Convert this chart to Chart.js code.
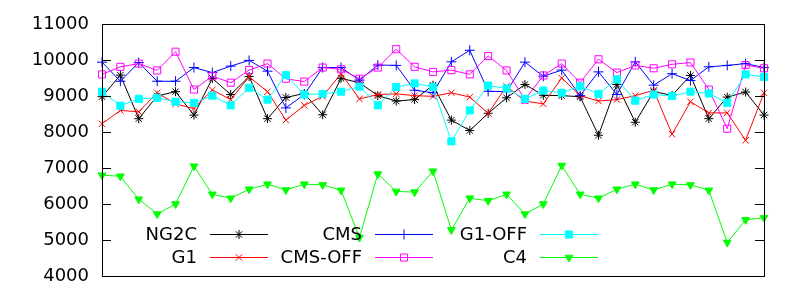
<!DOCTYPE html>
<html>
<head>
<meta charset="utf-8">
<script src="https://cdn.jsdelivr.net/npm/chart.js@4.4.1/dist/chart.umd.min.js"></script>
<style>
html,body{margin:0;padding:0;background:#fff;}
#wrap{width:800px;height:300px;}
</style>
</head>
<body>
<div id="wrap"><canvas id="c" width="800" height="300"></canvas></div>
<script>
const categories = Array.from({length: 37}, (_, i) => String(i + 1));
const yTicks = [4000, 5000, 6000, 7000, 8000, 9000, 10000, 11000];

const ng2c   = [8980,9580,8370,9000,9120,8470,9490,9040,9540,8370,8960,9070,8480,9490,9370,9010,8860,8900,9300,8330,8040,8520,8950,9320,9020,9010,8980,7910,9320,8270,9120,9020,9570,8370,8970,9110,8470];
const g1     = [8230,8600,8560,9090,8780,8650,9170,8900,9530,9120,8330,8740,8990,9620,8920,9040,9060,9010,8990,9090,8970,8520,9270,8860,8780,9500,9010,8860,8900,9010,9160,7940,8840,8530,8530,7770,9090];
const cms    = [9940,9410,9930,9410,9410,9790,9650,9830,9990,9690,8670,9040,9790,9790,9440,9860,9850,9160,9090,9950,10270,9130,9120,9940,9550,9720,9010,9670,9040,9950,9300,9620,9430,9810,9850,9900,9790];
const cmsOff = [9600,9810,9900,9710,10230,9180,9550,9370,9720,9900,9480,9400,9790,9740,9480,9790,10300,9810,9670,9720,9600,10110,9710,8900,9570,9900,9370,10020,9650,9850,9770,9880,9930,9180,8090,9860,9770];
const g1Off  = [9120,8730,8920,8950,8840,8810,9010,8740,9230,8900,9580,9040,9060,9120,9260,8740,9250,9350,9250,7740,8600,9290,9210,8920,9150,9090,9270,9060,9460,8870,9040,9000,9120,9070,8810,9600,9530];
const c4     = [6800,6770,6130,5720,6000,7050,6270,6160,6410,6550,6390,6550,6530,6380,5070,6830,6350,6330,6910,5280,6160,6090,6270,5720,6000,7070,6270,6160,6410,6550,6390,6550,6530,6380,4930,5560,5620];

const seriesNames = ['NG2C', 'G1', 'CMS', 'CMS-OFF', 'G1-OFF', 'C4'];
const seriesData = [ng2c, g1, cms, cmsOff, g1Off, c4];
const seriesColors = ['#000000', '#ff0000', '#0000ff', '#ff00ff', '#00ffff', '#00ff00'];
const seriesStyles = ['star', 'crossRot', 'cross', 'rect', 'rect', 'triangle'];
const seriesFill = [false, false, false, false, true, true];
const seriesRot = [0, 0, 0, 0, 0, 180];
const seriesRadius = [4.5, 4.5, 5, 5, 5, 4.5];

const FONT = '18px "DejaVu Sans", sans-serif';

const datasets = seriesNames.map((name, i) => ({
  label: name,
  data: seriesData[i],
  borderColor: seriesColors[i],
  backgroundColor: seriesFill[i] ? seriesColors[i] : 'rgba(0,0,0,0)',
  pointBorderColor: seriesColors[i],
  pointBackgroundColor: seriesFill[i] ? seriesColors[i] : 'rgba(0,0,0,0)',
  pointStyle: seriesStyles[i],
  pointRotation: seriesRot[i],
  pointRadius: seriesRadius[i],
  pointBorderWidth: 1,
  borderWidth: 1,
  tension: 0,
  fill: false,
  order: seriesNames.length - i
}));

function drawMarker(ctx, style, x, y, r, color, filled, rot) {
  if (Chart.helpers && Chart.helpers.drawPoint) {
    ctx.save();
    ctx.strokeStyle = color;
    ctx.fillStyle = filled ? color : 'rgba(0,0,0,0)';
    ctx.lineWidth = 1;
    Chart.helpers.drawPoint(ctx, {pointStyle: style, radius: r, rotation: rot, borderWidth: 1}, x, y);
    ctx.restore();
  }
}

const framePlugin = {
  id: 'frame',
  afterDatasetsDraw(chart) {
    const ctx = chart.ctx;
    const a = chart.chartArea;
    const ys = chart.scales.y;
    ctx.save();
    ctx.strokeStyle = '#000';
    ctx.lineWidth = 1;
    ctx.strokeRect(Math.round(a.left) + 0.5, Math.round(a.top) + 0.5, Math.round(a.right - a.left), Math.round(a.bottom - a.top));
    ctx.beginPath();
    yTicks.forEach(v => {
      const py = Math.round(ys.getPixelForValue(v)) + 0.5;
      ctx.moveTo(a.left, py); ctx.lineTo(a.left + 9, py);
      ctx.moveTo(a.right - 9, py); ctx.lineTo(a.right, py);
    });
    ctx.stroke();

    // legend: 2 rows x 3 columns, column-major order
    const colTextRight = [197, 362, 527];
    const colLineStart = [210, 375, 540];
    const lineLen = 58;
    const rowY = [234, 257];
    ctx.font = FONT;
    ctx.textAlign = 'right';
    ctx.textBaseline = 'middle';
    seriesNames.forEach((name, i) => {
      const col = Math.floor(i / 2), row = i % 2;
      const y = rowY[row];
      ctx.fillStyle = '#000';
      ctx.fillText(name, colTextRight[col], y + 1);
      ctx.strokeStyle = seriesColors[i];
      ctx.lineWidth = 1;
      ctx.beginPath();
      ctx.moveTo(colLineStart[col], y + 0.5);
      ctx.lineTo(colLineStart[col] + lineLen, y + 0.5);
      ctx.stroke();
      drawMarker(ctx, seriesStyles[i], colLineStart[col] + lineLen / 2, y + 0.5, seriesRadius[i], seriesColors[i], seriesFill[i], seriesRot[i]);
    });
    ctx.restore();
  }
};

new Chart(document.getElementById('c'), {
  type: 'line',
  data: { labels: categories, datasets },
  options: {
    responsive: false,
    animation: false,
    devicePixelRatio: 1,
    layout: { padding: { left: 0, right: 36, top: 24, bottom: 24 } },
    plugins: { legend: { display: false }, tooltip: { enabled: false } },
    scales: {
      x: {
        type: 'category',
        display: false,
        offset: false,
        grid: { display: false }
      },
      y: {
        min: 4000,
        max: 11000,
        afterBuildTicks(scale) { scale.ticks = yTicks.map(v => ({ value: v })); },
        afterFit(scale) { scale.width = 102; },
        grid: { display: false, drawTicks: false, tickLength: 0 },
        border: { display: false },
        ticks: {
          padding: 13,
          color: '#000',
          font: { family: '"DejaVu Sans", sans-serif', size: 18 },
          callback: v => String(v)
        }
      }
    }
  },
  plugins: [framePlugin]
});
</script>
</body>
</html>
